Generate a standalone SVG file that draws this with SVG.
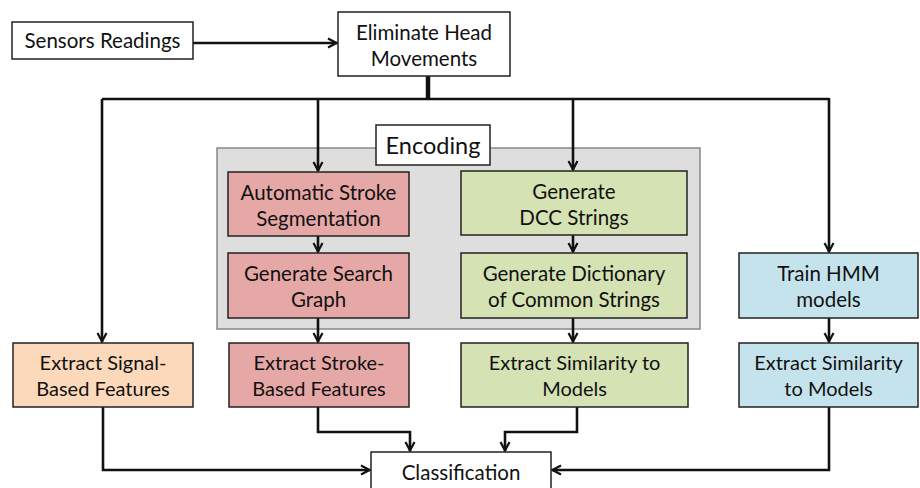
<svg xmlns="http://www.w3.org/2000/svg" width="920" height="488" viewBox="0 0 920 488">
<defs>
<marker id="ah" viewBox="0 0 12 12" refX="11" refY="6" markerWidth="12" markerHeight="12" markerUnits="userSpaceOnUse" orient="auto">
<path d="M2,1.5 L10.5,6 L2,10.5" fill="none" stroke="#111" stroke-width="2.2"/>
</marker>
<style>
.b{stroke:#222;stroke-width:1.5}
.w{fill:#fff}
.r{fill:#e6a8a6}
.g{fill:#d5e2b3}
.bl{fill:#c5e3ec}
.o{fill:#fcd9bb}
.t{font-family:Lato,"Open Sans","Liberation Sans",sans-serif;font-size:20.5px;fill:#111;text-anchor:middle}
.s{font-size:20px}
.c{fill:none;stroke:#111;stroke-width:2.6;stroke-linejoin:miter}
.ca{fill:none;stroke:#111;stroke-width:2.6;marker-end:url(#ah)}
</style>
</defs>
<g id="encoding">
<rect x="217" y="148" width="483" height="181" fill="#dedede" stroke="#888" stroke-width="1.5"/>
<rect x="376" y="125" width="114" height="40" class="b w"/>
<text x="433" y="154" class="t" style="font-size:23.5px">Encoding</text>
</g>
<g id="connectors">
<line x1="193" y1="43" x2="337" y2="43" class="ca"/>
<line x1="428" y1="76" x2="428" y2="99" stroke="#111" stroke-width="4.5"/>
<path d="M102,99 H829" class="c"/>
<path d="M102,99 V342" class="ca"/>
<path d="M318,99 V171" class="ca"/>
<path d="M573,99 V170" class="ca"/>
<path d="M829,98 V252" class="ca"/>
<path d="M318,236 V252" class="ca"/>
<path d="M573,235 V252" class="ca"/>
<path d="M318,318 V342" class="ca"/>
<path d="M573,318 V342" class="ca"/>
<path d="M829,318 V342" class="ca"/>
<path d="M103,407 V470 H370" class="ca"/>
<path d="M829,407 V470 H552" class="ca"/>
<path d="M318,407 V432 H410 V451" class="ca"/>
<path d="M577,407 V432 H505 V451" class="ca"/>
</g>
<g id="sensors">
<rect x="12" y="22" width="181" height="37" class="b w"/>
<text x="102.5" y="48" class="t">Sensors Readings</text>
</g>
<g id="eliminate">
<rect x="338" y="12" width="172" height="64" class="b w"/>
<text x="424" y="40" class="t">Eliminate Head</text>
<text x="424" y="66" class="t">Movements</text>
</g>
<g id="auto-stroke">
<rect x="228" y="172" width="181" height="64" class="b r"/>
<text x="318.5" y="200" class="t">Automatic Stroke</text>
<text x="318.5" y="226" class="t">Segmentation</text>
</g>
<g id="search-graph">
<rect x="228" y="253" width="181" height="65" class="b r"/>
<text x="318.5" y="281" class="t">Generate Search</text>
<text x="318.5" y="307" class="t">Graph</text>
</g>
<g id="dcc">
<rect x="461" y="171" width="226" height="64" class="b g"/>
<text x="574" y="199" class="t">Generate</text>
<text x="574" y="225" class="t">DCC Strings</text>
</g>
<g id="dictionary">
<rect x="461" y="253" width="226" height="65" class="b g"/>
<text x="574" y="281" class="t">Generate Dictionary</text>
<text x="574" y="307" class="t">of Common Strings</text>
</g>
<g id="hmm">
<rect x="739" y="253" width="179" height="65" class="b bl"/>
<text x="828.5" y="281" class="t">Train HMM</text>
<text x="828.5" y="307" class="t">models</text>
</g>
<g id="signal-features">
<rect x="13" y="343" width="180" height="64" class="b o"/>
<text x="103" y="370" class="t s">Extract Signal-</text>
<text x="103" y="396" class="t s">Based Features</text>
</g>
<g id="stroke-features">
<rect x="229" y="343" width="180" height="64" class="b r"/>
<text x="319" y="370" class="t s">Extract Stroke-</text>
<text x="319" y="396" class="t s">Based Features</text>
</g>
<g id="dcc-similarity">
<rect x="461" y="343" width="227" height="64" class="b g"/>
<text x="574.5" y="370" class="t s">Extract Similarity to</text>
<text x="574.5" y="396" class="t s">Models</text>
</g>
<g id="hmm-similarity">
<rect x="739" y="343" width="179" height="64" class="b bl"/>
<text x="828.5" y="370" class="t s">Extract Similarity</text>
<text x="828.5" y="396" class="t s">to Models</text>
</g>
<g id="classification">
<rect x="371" y="452" width="180" height="44" class="b w"/>
<text x="461" y="480" class="t">Classification</text>
</g>
</svg>
